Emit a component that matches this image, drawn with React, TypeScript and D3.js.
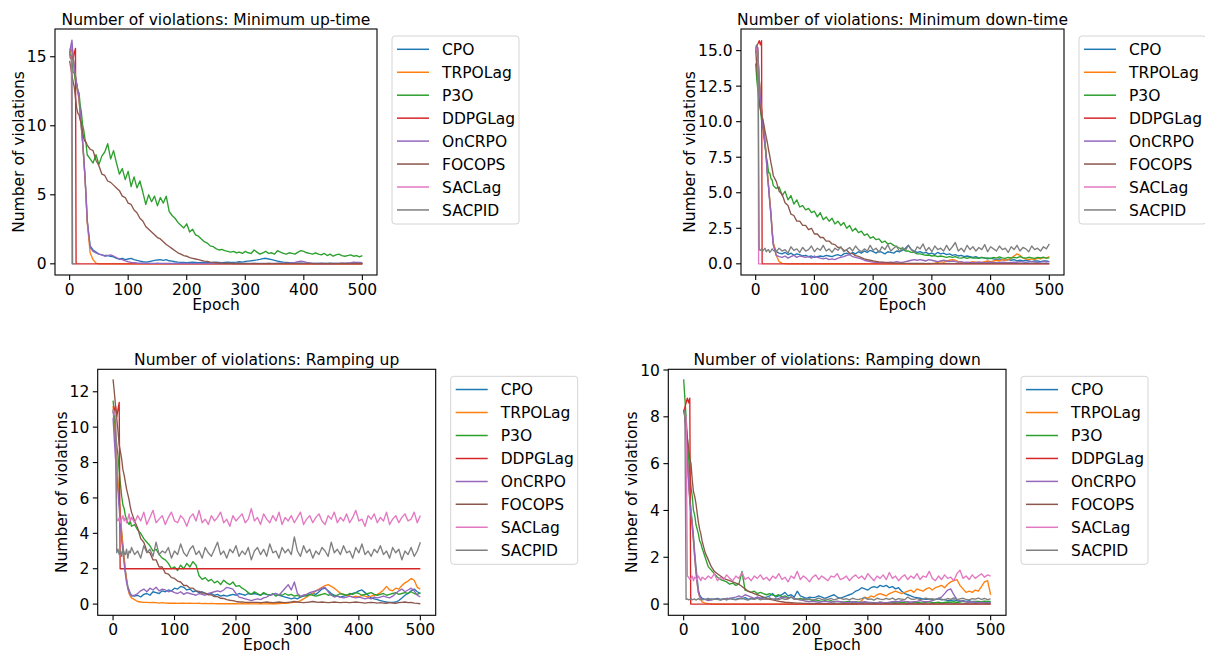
import React from 'react';
import * as d3 from 'd3';

const ALGOS = ['CPO', 'TRPOLag', 'P3O', 'DDPGLag', 'OnCRPO', 'FOCOPS', 'SACLag', 'SACPID'];
const COLORS = ['#1f77b4', '#ff7f0e', '#2ca02c', '#d62728', '#9467bd', '#8c564b', '#e377c2', '#7f7f7f'];
const X_TICKS = [0, 100, 200, 300, 400, 500];

// epochs at which the dense series are sampled
const HEAD_EPOCHS = [0, 2, 4, 6, 8, 10, 12, 14, 16, 18, 20, 22, 24, 26, 28, 30];
const TAIL_EPOCHS = d3.range(35, 501, 5);
const GRID = HEAD_EPOCHS.concat(TAIL_EPOCHS);

type Pair = [number, number];

// ---------- Minimum up-time ----------
const mutCPO = [15.5, 15.6, 15.4, 14.8, 14.2, 13.5, 12.9, 12.5, 12.0, 10.9, 9.9, 8.9, 7.7, 6.4, 4.9, 3.1,
  1.3, 1.0, 0.85, 0.7, 0.65, 0.6, 0.6, 0.55, 0.5, 0.4,
  0.35, 0.4, 0.3, 0.35, 0.4, 0.3, 0.25, 0.2, 0.15, 0.12,
  0.15, 0.2, 0.25, 0.28, 0.3, 0.25, 0.3, 0.22, 0.2, 0.15,
  0.12, 0.1, 0.1, 0.08, 0.1, 0.12, 0.1, 0.08, 0.1, 0.1,
  0.1, 0.08, 0.1, 0.12, 0.1, 0.08, 0.1, 0.12, 0.1, 0.1,
  0.12, 0.15, 0.12, 0.18, 0.2, 0.22, 0.25, 0.28, 0.32, 0.38,
  0.4, 0.35, 0.3, 0.25, 0.2, 0.15, 0.12, 0.1, 0.08, 0.06,
  0.05, 0.04, 0.04, 0.03, 0.03, 0.03, 0.02, 0.02, 0.02, 0.02,
  0.02, 0.02, 0.02, 0.02, 0.02, 0.02, 0.02, 0.02, 0.02, 0.02,
  0.02, 0.02, 0.02, 0.02];
const mutTRPOLag: Pair[] = [[0, 15.0], [2, 15.5], [4, 15.8], [6, 15.0], [8, 14.2], [10, 13.5], [12, 12.9], [14, 12.4],
  [16, 11.9], [18, 10.9], [20, 9.9], [22, 8.9], [24, 7.7], [26, 6.4], [28, 4.9], [30, 3.0], [35, 0.8], [40, 0.3],
  [45, 0.05], [50, 0], [500, 0]];
const mutP3O = [15.4, 14.9, 14.6, 13.9, 13.8, 13.2, 13.1, 12.5, 12.4, 11.5, 11.0, 10.1, 9.7, 9.1, 8.7, 7.9,
  7.6, 7.3, 7.9, 7.2, 7.8, 8.1, 8.7, 7.6, 8.2, 7.3,
  6.5, 6.9, 6.1, 6.7, 5.6, 6.3, 5.5, 6.0, 5.2, 4.3,
  5.0, 4.5, 4.9, 4.2, 4.8, 4.4, 4.9, 3.8, 3.5, 3.3,
  3.0, 2.8, 2.6, 2.9, 2.3, 2.5, 2.1, 2.0, 1.8, 1.6,
  1.5, 1.3, 1.25, 1.1, 1.0, 1.05, 0.95, 0.9, 0.85, 0.9,
  0.8, 0.85, 0.75, 0.9, 0.8, 0.75, 1.0, 0.85, 0.7, 0.8,
  0.9, 0.75, 0.8, 0.7, 0.95, 0.85, 0.75, 0.7, 0.8, 0.75,
  0.7, 0.85, 0.95, 0.9, 0.8, 0.75, 0.7, 0.8, 0.7, 0.65,
  0.75, 0.6, 0.7, 0.55, 0.65, 0.7, 0.6, 0.55, 0.6, 0.65,
  0.55, 0.6, 0.5, 0.6];
const mutDDPGLag: Pair[] = [[0, 14.9], [4, 15.0], [6, 14.8], [8, 15.3], [10, 15.6], [11, 0], [500, 0]];
const mutOnCRPO = [15.3, 15.8, 16.2, 15.0, 14.3, 13.6, 13.0, 12.6, 12.1, 11.0, 10.0, 9.0, 7.8, 6.5, 5.0, 3.2,
  1.2, 0.9, 0.8, 0.7, 0.65, 0.55, 0.6, 0.65, 0.55, 0.45,
  0.35, 0.3, 0.22, 0.15, 0.1, 0.08, 0.06, 0.05, 0.04, 0.03,
  0.03, 0.02, 0.03, 0.04, 0.03, 0.02, 0.03, 0.02, 0.02, 0.03,
  0.02, 0.02, 0.03, 0.02, 0.02, 0.01, 0.02, 0.02, 0.01, 0.02,
  0.02, 0.01, 0.02, 0.02, 0.01, 0.02, 0.01, 0.02, 0.02, 0.01,
  0.02, 0.01, 0.02, 0.03, 0.02, 0.02, 0.03, 0.02, 0.02, 0.03,
  0.02, 0.03, 0.02, 0.02, 0.03, 0.04, 0.03, 0.05, 0.06, 0.08,
  0.1, 0.15, 0.2, 0.15, 0.1, 0.06, 0.04, 0.03, 0.02, 0.03,
  0.02, 0.03, 0.02, 0.03, 0.02, 0.03, 0.04, 0.05, 0.07, 0.09,
  0.12, 0.1, 0.11, 0.08];
const mutFOCOPS = [14.7, 14.2, 13.6, 13.2, 12.8, 12.0, 11.3, 10.9, 10.8, 10.4, 10.2, 9.6, 9.1, 8.9, 8.8, 8.6,
  8.3, 8.2, 7.5, 7.1, 6.5, 6.4, 6.0, 5.9, 5.7, 5.5,
  5.3, 4.9, 4.8, 4.4, 4.3, 3.9, 3.7, 3.3, 3.1, 2.7,
  2.5, 2.3, 2.1, 1.9, 1.8, 1.6, 1.4, 1.25, 1.1, 0.95,
  0.8, 0.7, 0.6, 0.55, 0.45, 0.4, 0.35, 0.3, 0.25, 0.2,
  0.18, 0.12, 0.1, 0.08, 0.06, 0.05, 0.04, 0.03, 0.03, 0.02,
  0.02, 0.02, 0.01, 0.02, 0.01, 0.01, 0.02, 0.01, 0.01, 0.01,
  0.01, 0.02, 0.01, 0.01, 0.02, 0.01, 0.01, 0.02, 0.01, 0.01,
  0.01, 0.01, 0.02, 0.01, 0.01, 0.02, 0.01, 0.01, 0.01, 0.02,
  0.01, 0.01, 0.02, 0.01, 0.01, 0.01, 0.02, 0.01, 0.01, 0.01,
  0.01, 0.02, 0.01, 0.01];
const mutSACLag: Pair[] = [[0, 15.0], [3, 15.2], [4, 0], [10, 0]];
const mutSACPID: Pair[] = [[0, 15.2], [4, 15.0], [5, 0], [11, 0]];

// ---------- Minimum down-time ----------
const mdtCPO = [15.0, 15.2, 14.5, 13.0, 11.8, 10.8, 9.9, 9.3, 8.5, 7.5, 6.3, 5.4, 4.4, 3.5, 2.3, 1.4,
  0.85, 0.75, 0.7, 0.8, 0.65, 0.75, 0.6, 0.7, 0.65, 0.55,
  0.6, 0.5, 0.55, 0.45, 0.5, 0.55, 0.5, 0.6, 0.55, 0.5,
  0.6, 0.65, 0.55, 0.7, 0.75, 0.65, 0.8, 0.7, 0.85, 0.75,
  0.9, 0.8, 0.95, 0.85, 0.75, 0.9, 0.8, 0.7, 0.85, 0.8,
  0.75, 0.9, 0.85, 0.95, 1.1, 1.3, 1.0, 0.9, 0.8, 0.85,
  0.75, 0.8, 0.7, 0.75, 0.65, 0.8, 0.7, 0.75, 0.65, 0.7,
  0.6, 0.65, 0.55, 0.6, 0.5, 0.55, 0.5, 0.45, 0.5, 0.4,
  0.45, 0.4, 0.35, 0.4, 0.35, 0.3, 0.35, 0.3, 0.25, 0.3,
  0.25, 0.3, 0.2, 0.25, 0.2, 0.25, 0.2, 0.15, 0.2, 0.2,
  0.15, 0.2, 0.2, 0.15];
const mdtTRPOLag = [15.0, 15.3, 14.6, 13.1, 11.9, 10.9, 10.0, 9.4, 8.6, 7.6, 6.4, 5.5, 4.5, 3.6, 2.4, 1.5,
  0.6, 0.15, 0.03, 0.01, 0, 0, 0, 0, 0, 0,
  0, 0, 0, 0, 0, 0, 0, 0, 0, 0,
  0, 0, 0, 0, 0, 0, 0, 0, 0, 0,
  0, 0, 0, 0, 0, 0, 0, 0, 0, 0,
  0, 0, 0, 0, 0, 0, 0, 0, 0, 0,
  0, 0, 0, 0.02, 0.05, 0.1, 0.15, 0.1, 0.2, 0.25,
  0.3, 0.25, 0.15, 0.1, 0.05, 0.08, 0.1, 0.15, 0.1, 0.12,
  0.1, 0.15, 0.2, 0.15, 0.2, 0.25, 0.2, 0.3, 0.25, 0.3,
  0.4, 0.55, 0.7, 0.6, 0.4, 0.35, 0.3, 0.35, 0.3, 0.4,
  0.35, 0.45, 0.4, 0.5];
const mdtP3O = [14.1, 12.9, 12.1, 11.2, 10.9, 10.1, 9.8, 8.9, 8.3, 7.5, 7.1, 6.4, 6.4, 6.0, 5.9, 5.5,
  5.3, 5.4, 4.8, 5.1, 4.5, 4.8, 4.2, 4.5, 4.0, 4.1,
  3.8, 3.9, 3.6, 3.7, 3.3, 3.6, 3.1, 3.3, 3.0, 3.2,
  2.8, 3.0, 2.7, 2.9, 2.5, 2.7, 2.3, 2.5, 2.2, 2.3,
  2.0, 2.1, 1.8, 1.9, 1.7, 1.75, 1.5, 1.6, 1.4, 1.45,
  1.3, 1.2, 1.1, 1.05, 0.9, 0.9, 0.8, 0.8, 0.7, 0.7,
  0.65, 0.6, 0.62, 0.55, 0.58, 0.5, 0.55, 0.5, 0.45, 0.5,
  0.45, 0.5, 0.42, 0.4, 0.45, 0.38, 0.45, 0.4, 0.42, 0.38,
  0.45, 0.4, 0.42, 0.36, 0.45, 0.4, 0.48, 0.42, 0.38, 0.45,
  0.4, 0.45, 0.42, 0.5, 0.44, 0.4, 0.46, 0.42, 0.38, 0.45,
  0.42, 0.46, 0.4, 0.42];
const mdtDDPGLag: Pair[] = [[0, 15.2], [4, 15.5], [6, 15.7], [8, 15.4], [10, 15.7], [11, 0], [500, 0]];
const mdtOnCRPO = [15.1, 15.3, 14.4, 12.9, 11.7, 10.7, 9.8, 9.2, 8.4, 7.4, 6.2, 5.3, 4.3, 3.4, 2.2, 1.3,
  0.6, 0.5, 0.45, 0.55, 0.4, 0.5, 0.6, 0.45, 0.55, 0.5,
  0.45, 0.5, 0.4, 0.55, 0.45, 0.4, 0.35, 0.4, 0.3, 0.35,
  0.3, 0.4, 0.45, 0.5, 0.6, 0.65, 0.5, 0.45, 0.4, 0.35,
  0.25, 0.2, 0.15, 0.12, 0.1, 0.08, 0.1, 0.08, 0.1, 0.12,
  0.1, 0.15, 0.12, 0.1, 0.15, 0.2, 0.25, 0.3, 0.25, 0.3,
  0.25, 0.2, 0.3, 0.25, 0.2, 0.15, 0.2, 0.25, 0.2, 0.15,
  0.2, 0.15, 0.12, 0.15, 0.1, 0.12, 0.1, 0.08, 0.1, 0.12,
  0.1, 0.08, 0.1, 0.12, 0.1, 0.08, 0.1, 0.12, 0.1, 0.08,
  0.1, 0.12, 0.1, 0.15, 0.12, 0.1, 0.12, 0.15, 0.12, 0.1,
  0.12, 0.15, 0.12, 0.15];
const mdtFOCOPS = [15.1, 13.8, 12.5, 11.5, 10.9, 10.4, 10.2, 9.8, 9.3, 8.9, 8.5, 8.0, 7.6, 7.1, 6.7, 6.2,
  5.8, 5.1, 4.9, 4.3, 4.1, 3.5, 3.4, 3.0, 3.0, 2.7,
  2.7, 2.4, 2.5, 2.1, 2.1, 1.85, 1.85, 1.6, 1.6, 1.4,
  1.35, 1.15, 1.15, 0.95, 0.95, 0.75, 0.72, 0.58, 0.52, 0.43,
  0.35, 0.3, 0.25, 0.2, 0.17, 0.14, 0.12, 0.1, 0.08, 0.07,
  0.06, 0.05, 0.04, 0.04, 0.03, 0.03, 0.02, 0.02, 0.02, 0.02,
  0.02, 0.01, 0.02, 0.01, 0.01, 0.02, 0.01, 0.01, 0.02, 0.01,
  0.01, 0.01, 0.02, 0.01, 0.01, 0.01, 0.02, 0.01, 0.01, 0.01,
  0.02, 0.01, 0.01, 0.01, 0.02, 0.01, 0.01, 0.01, 0.01, 0.02,
  0.01, 0.01, 0.01, 0.02, 0.01, 0.01, 0.01, 0.01, 0.02, 0.01,
  0.01, 0.01, 0.01, 0.01];
const mdtSACLag: Pair[] = [[0, 15.0], [4, 15.2], [5, 0], [11, 0]];
const mdtSACPID = [15.3, 15.4, 15.0, 1.0, 0.95, 1.05, 0.9, 1.0, 1.1, 0.85, 0.95, 1.0, 0.8, 0.9, 1.05, 0.95,
  0.85, 1.1, 0.9, 1.0, 0.75, 1.2, 0.95, 1.05, 0.8, 1.15,
  0.9, 1.0, 1.25, 0.85, 1.1, 0.95, 1.3, 0.9, 1.05, 0.8,
  1.1, 0.95, 1.2, 0.85, 1.0, 1.15, 0.9, 1.25, 1.0, 0.85,
  1.05, 0.9, 1.3, 0.95, 1.1, 0.8, 1.2, 1.0, 1.35, 0.9,
  1.1, 1.25, 0.85, 1.15, 0.95, 1.3, 1.0, 0.8, 1.2, 1.05,
  1.4, 0.9, 1.15, 0.85, 1.25, 1.0, 1.1, 0.9, 1.3, 0.95,
  1.2, 1.5, 0.9, 1.1, 0.85, 1.3, 1.0, 1.2, 0.9, 1.15,
  1.0, 1.35, 0.85, 1.2, 1.05, 0.9, 1.25, 1.0, 1.1, 0.8,
  1.2, 1.0, 1.3, 0.9, 1.15, 1.05, 0.85, 1.25, 1.0, 1.1,
  0.9, 1.2, 1.05, 1.4];

// ---------- Ramping up ----------
const rupCPO = [11.0, 10.2, 9.2, 8.0, 6.8, 5.8, 4.9, 4.0, 3.3, 2.6, 1.9, 1.4, 1.0, 0.8, 0.6, 0.5,
  0.45, 0.5, 0.4, 0.55, 0.6, 0.5, 0.7, 0.65, 0.6, 0.75,
  0.7, 0.8, 0.75, 0.9, 0.85, 1.0, 0.95, 0.8, 0.85, 0.7,
  0.75, 0.65, 0.7, 0.6, 0.55, 0.6, 0.5, 0.55, 0.45, 0.5,
  0.45, 0.5, 0.55, 0.5, 0.6, 0.55, 0.5, 0.6, 0.55, 0.6,
  0.55, 0.5, 0.6, 0.55, 0.5, 0.55, 0.6, 0.5, 0.45, 0.4,
  0.35, 0.3, 0.35, 0.3, 0.4, 0.45, 0.5, 0.55, 0.6, 0.55,
  0.7, 0.85, 0.9, 0.75, 0.6, 0.5, 0.45, 0.4, 0.45, 0.5,
  0.55, 0.6, 0.65, 0.75, 0.8, 0.65, 0.5, 0.35, 0.3, 0.25,
  0.2, 0.15, 0.12, 0.1, 0.1, 0.12, 0.2, 0.35, 0.5, 0.6,
  0.75, 0.85, 0.7, 0.6];
const rupTRPOLag = [11.2, 10.4, 9.3, 8.1, 6.9, 5.9, 5.0, 4.1, 3.3, 2.6, 1.9, 1.4, 0.9, 0.6, 0.45, 0.35,
  0.25, 0.15, 0.12, 0.1, 0.1, 0.08, 0.1, 0.08, 0.06, 0.08,
  0.06, 0.05, 0.06, 0.05, 0.04, 0.05, 0.06, 0.04, 0.05, 0.04,
  0.04, 0.05, 0.03, 0.04, 0.03, 0.04, 0.03, 0.02, 0.03, 0.02,
  0.02, 0.03, 0.02, 0.02, 0.01, 0.02, 0.01, 0.02, 0.01, 0.01,
  0.01, 0.02, 0.01, 0.01, 0.02, 0.03, 0.02, 0.03, 0.05, 0.04,
  0.06, 0.08, 0.1, 0.12, 0.2, 0.3, 0.4, 0.5, 0.6, 0.75,
  0.85, 0.95, 1.05, 1.1, 1.0, 0.9, 0.75, 0.6, 0.55, 0.5,
  0.45, 0.4, 0.45, 0.4, 0.5, 0.45, 0.4, 0.45, 0.5, 0.55,
  0.65, 0.8, 1.0, 0.8, 0.75, 0.9, 0.85, 1.05, 1.2, 1.3,
  1.45, 1.35, 0.95, 0.85];
const rupP3O = [11.5, 10.8, 9.8, 9.0, 8.4, 7.5, 6.8, 6.1, 5.6, 5.4, 5.0, 4.8, 4.6, 4.5, 4.7, 4.4,
  4.5, 4.2, 4.0, 3.7, 3.5, 3.3, 3.0, 3.1, 2.8, 2.6,
  2.5, 2.3, 2.0, 2.1, 1.9, 2.2, 2.0, 2.3, 2.1, 2.4,
  2.2, 1.6, 1.4, 1.5, 1.3, 1.4, 1.2, 1.3, 1.1, 1.35,
  1.2, 1.1, 1.25, 1.0, 1.05, 0.9, 0.8, 0.65, 0.55, 0.7,
  0.6, 0.5, 0.65, 0.55, 0.5, 0.6, 0.45, 0.55, 0.5, 0.6,
  0.5, 0.55, 0.45, 0.5, 0.4, 0.5, 0.45, 0.55, 0.5, 0.45,
  0.5, 0.55, 0.6, 0.5, 0.55, 0.45, 0.5, 0.6, 0.55, 0.5,
  0.6, 0.55, 0.65, 0.6, 0.5, 0.55, 0.6, 0.65, 0.55, 0.5,
  0.55, 0.6, 0.5, 0.55, 0.6, 0.65, 0.55, 0.6, 0.65, 0.6,
  0.7, 0.6, 0.55, 0.65];
const rupDDPGLag: Pair[] = [[0, 10.8], [4, 11.2], [6, 10.6], [8, 11.0], [10, 11.4], [11.5, 2], [500, 2]];
const rupOnCRPO = [10.5, 9.3, 8.2, 7.2, 6.4, 5.4, 4.5, 3.6, 3.0, 2.3, 1.7, 1.2, 0.9, 0.7, 0.55, 0.45,
  0.5, 0.6, 0.75, 0.85, 0.7, 0.9, 0.8, 0.95, 0.75, 0.85,
  0.8, 0.7, 0.75, 0.65, 0.6, 0.7, 0.55, 0.65, 0.6, 0.55,
  0.5, 0.6, 0.55, 0.5, 0.6, 0.65, 0.7, 0.75, 0.7, 0.8,
  0.95, 0.9, 0.85, 0.6, 0.4, 0.35, 0.3, 0.25, 0.2, 0.25,
  0.3, 0.25, 0.35, 0.4, 0.5, 0.55, 0.6, 0.5, 0.7, 0.9,
  1.1, 0.8, 1.25, 0.6, 0.45, 0.5, 0.55, 0.65, 0.7, 0.75,
  0.8, 0.9, 0.95, 0.7, 0.5, 0.4, 0.45, 0.4, 0.35, 0.4,
  0.45, 0.4, 0.35, 0.4, 0.35, 0.3, 0.35, 0.3, 0.4, 0.35,
  0.4, 0.45, 0.4, 0.35, 0.45, 0.6, 0.75, 0.85, 0.7, 0.8,
  0.9, 0.75, 0.5, 0.4];
const rupFOCOPS = [12.7, 12.0, 11.2, 10.5, 9.8, 9.0, 8.6, 8.2, 7.6, 7.3, 6.9, 6.5, 6.2, 5.9, 5.5, 5.2,
  4.7, 4.3, 3.7, 3.5, 3.0, 2.9, 2.5, 2.5, 2.1, 2.1,
  1.75, 1.7, 1.5, 1.45, 1.3, 1.25, 1.05, 1.05, 0.9, 0.9,
  0.75, 0.72, 0.62, 0.62, 0.52, 0.52, 0.42, 0.42, 0.33, 0.32,
  0.25, 0.22, 0.2, 0.15, 0.12, 0.12, 0.1, 0.1, 0.1, 0.1,
  0.1, 0.08, 0.1, 0.12, 0.1, 0.08, 0.1, 0.12, 0.1, 0.08,
  0.1, 0.12, 0.15, 0.12, 0.1, 0.08, 0.1, 0.12, 0.15, 0.12,
  0.1, 0.12, 0.1, 0.08, 0.1, 0.12, 0.1, 0.08, 0.1, 0.1,
  0.08, 0.1, 0.12, 0.1, 0.08, 0.06, 0.08, 0.1, 0.08, 0.06,
  0.08, 0.06, 0.05, 0.08, 0.06, 0.05, 0.08, 0.1, 0.12, 0.08,
  0.1, 0.06, 0.04, 0.02];
const rupSACLag = [11.0, 10.8, 10.6, 4.8, 4.7, 4.9, 4.6, 4.8, 5.0, 4.7, 4.9, 4.6, 4.8, 5.1, 4.7, 4.9,
  4.6, 5.0, 4.7, 5.2, 4.5, 4.9, 5.3, 4.6, 4.8, 5.0,
  4.5, 4.9, 5.2, 4.7, 4.6, 5.0, 4.8, 4.4, 4.9, 5.1,
  4.7, 5.3, 4.6, 4.8, 4.5, 5.0, 4.7, 4.9, 5.2, 4.6,
  4.8, 4.4, 5.0, 4.7, 4.9, 5.1, 4.6, 4.8, 5.4, 4.7,
  4.9, 4.5, 5.1, 4.8, 4.6, 5.0, 4.7, 5.2, 4.5, 4.9,
  4.7, 5.0, 4.6, 4.9, 5.2, 4.5, 4.8, 5.0, 4.6, 4.9,
  5.1, 4.7, 4.5, 5.0, 4.8, 5.2, 4.6, 4.9, 4.7, 5.1,
  4.6, 4.9, 5.3, 4.7, 4.8, 4.4, 5.0, 4.8, 5.1, 4.6,
  4.9, 4.7, 5.2, 4.5, 4.8, 5.0, 4.6, 4.9, 5.1, 4.7,
  4.8, 5.2, 4.6, 5.0];
const rupSACPID = [10.6, 10.5, 10.4, 2.9, 3.1, 2.8, 3.0, 2.7, 3.2, 2.9, 2.8, 3.1, 2.6, 3.0, 2.9, 3.2,
  2.8, 3.0, 2.6, 3.3, 2.9, 3.1, 2.7, 3.5, 2.8, 3.0,
  2.9, 3.2, 2.6, 3.0, 2.8, 3.4, 2.9, 2.7, 3.1, 3.3,
  2.8, 3.0, 2.6, 3.2, 2.9, 2.7, 3.1, 3.5, 2.8, 3.0,
  2.6, 3.1, 2.9, 3.3, 2.7, 3.0, 2.8, 3.2, 2.5, 3.0,
  3.2, 2.8, 3.1, 2.7, 3.4, 2.9, 3.0, 2.6, 3.2, 2.9,
  3.1, 2.8, 3.8, 3.0, 2.7, 3.3, 2.9, 3.1, 2.6, 3.0,
  2.8, 3.2, 3.0, 2.7, 3.5, 2.9, 3.1, 2.8, 3.3, 2.9,
  3.0, 2.6, 3.2, 2.9, 3.4, 2.8, 3.0, 2.7, 3.1, 2.9,
  3.3, 2.8, 3.0, 2.6, 3.2, 2.9, 3.1, 2.5, 3.0, 2.8,
  3.2, 2.7, 3.0, 3.5];

// ---------- Ramping down ----------
const rdnCPO = [8.3, 8.1, 7.4, 6.4, 5.4, 4.6, 4.0, 3.5, 2.9, 2.2, 1.6, 1.1, 0.6, 0.4, 0.3, 0.25,
  0.2, 0.18, 0.22, 0.2, 0.25, 0.2, 0.22, 0.18, 0.25, 0.22,
  0.2, 0.25, 0.22, 0.28, 0.2, 0.25, 0.22, 0.3, 0.25, 0.28,
  0.3, 0.35, 0.45, 0.3, 0.35, 0.4, 0.5, 0.35, 0.4, 0.3,
  0.55, 0.35, 0.3, 0.25, 0.3, 0.28, 0.3, 0.35, 0.3, 0.25,
  0.3, 0.35, 0.4, 0.3, 0.25, 0.3, 0.35, 0.4, 0.45, 0.55,
  0.6, 0.7, 0.65, 0.6, 0.7, 0.75, 0.7, 0.8, 0.75, 0.8,
  0.7, 0.75, 0.65, 0.7, 0.55, 0.45, 0.4, 0.35, 0.3, 0.28,
  0.25, 0.22, 0.2, 0.22, 0.18, 0.2, 0.22, 0.18, 0.2, 0.15,
  0.15, 0.18, 0.15, 0.12, 0.15, 0.12, 0.15, 0.1, 0.12, 0.1,
  0.1, 0.08, 0.1, 0.07];
const rdnTRPOLag = [8.3, 8.1, 7.3, 6.3, 5.3, 4.5, 3.9, 3.3, 2.7, 2.0, 1.4, 0.9, 0.5, 0.3, 0.18, 0.1,
  0.04, 0.02, 0.01, 0, 0, 0, 0, 0, 0, 0,
  0, 0, 0, 0, 0, 0, 0, 0, 0, 0,
  0, 0, 0, 0, 0, 0, 0, 0, 0, 0,
  0, 0, 0, 0, 0, 0, 0, 0, 0, 0,
  0, 0, 0, 0, 0, 0, 0, 0, 0, 0,
  0.05, 0.15, 0.3, 0.25, 0.35, 0.3, 0.4, 0.45, 0.4, 0.35,
  0.45, 0.5, 0.55, 0.5, 0.45, 0.5, 0.55, 0.6, 0.5, 0.65,
  0.6, 0.55, 0.65, 0.7, 0.6, 0.7, 0.75, 0.8, 0.7, 0.85,
  0.95, 1.0, 1.05, 0.8, 0.65, 0.5, 0.55, 0.5, 0.6, 0.55,
  0.75, 0.95, 1.0, 0.4];
const rdnP3O = [9.6, 8.8, 8.0, 7.1, 6.3, 5.6, 5.0, 4.6, 4.0, 3.8, 3.4, 3.2, 3.0, 2.7, 2.6, 2.4,
  2.0, 1.6, 1.45, 1.3, 1.15, 1.05, 1.0, 0.95, 0.85, 0.9,
  0.8, 0.85, 1.4, 0.6, 0.55, 0.5, 0.55, 0.45, 0.5, 0.45,
  0.4, 0.45, 0.38, 0.35, 0.4, 0.3, 0.35, 0.28, 0.3, 0.25,
  0.2, 0.25, 0.2, 0.18, 0.2, 0.15, 0.18, 0.15, 0.12, 0.15,
  0.12, 0.15, 0.1, 0.12, 0.1, 0.08, 0.1, 0.12, 0.08, 0.1,
  0.08, 0.06, 0.08, 0.05, 0.07, 0.06, 0.05, 0.08, 0.06, 0.05,
  0.05, 0.07, 0.06, 0.05, 0.08, 0.06, 0.05, 0.07, 0.06, 0.08,
  0.06, 0.05, 0.08, 0.1, 0.07, 0.06, 0.08, 0.05, 0.07, 0.09,
  0.08, 0.1, 0.07, 0.09, 0.12, 0.1, 0.08, 0.11, 0.1, 0.12,
  0.1, 0.13, 0.11, 0.12];
const rdnDDPGLag: Pair[] = [[0, 8.2], [4, 8.6], [6, 8.8], [8, 8.6], [10, 8.8], [11.5, 0], [500, 0]];
const rdnOnCRPO = [8.3, 8.0, 7.2, 6.2, 5.2, 4.4, 3.8, 3.3, 2.7, 2.0, 1.4, 0.9, 0.5, 0.35, 0.25, 0.2,
  0.2, 0.15, 0.18, 0.2, 0.22, 0.18, 0.2, 0.25, 0.22, 0.28,
  0.3, 0.35, 0.3, 0.4, 0.35, 0.3, 0.25, 0.3, 0.25, 0.22,
  0.2, 0.25, 0.22, 0.2, 0.25, 0.3, 0.28, 0.25, 0.3, 0.25,
  0.2, 0.18, 0.15, 0.12, 0.1, 0.12, 0.1, 0.08, 0.1, 0.12,
  0.1, 0.08, 0.1, 0.12, 0.1, 0.08, 0.06, 0.08, 0.1, 0.08,
  0.06, 0.08, 0.1, 0.08, 0.06, 0.05, 0.06, 0.08, 0.06, 0.05,
  0.08, 0.1, 0.12, 0.1, 0.15, 0.12, 0.1, 0.08, 0.1, 0.12,
  0.15, 0.12, 0.1, 0.12, 0.15, 0.2, 0.25, 0.3, 0.45, 0.6,
  0.65, 0.4, 0.2, 0.15, 0.12, 0.1, 0.08, 0.1, 0.08, 0.06,
  0.08, 0.06, 0.05, 0.06];
const rdnFOCOPS = [8.3, 8.0, 7.6, 7.1, 6.7, 6.2, 6.0, 5.3, 4.8, 4.6, 4.3, 3.9, 3.5, 3.2, 3.0, 2.7,
  2.2, 1.9, 1.6, 1.4, 1.3, 1.2, 1.1, 1.05, 1.0, 0.95,
  0.9, 0.85, 0.75, 0.65, 0.55, 0.5, 0.45, 0.4, 0.35, 0.3,
  0.25, 0.2, 0.18, 0.15, 0.12, 0.1, 0.08, 0.07, 0.06, 0.05,
  0.04, 0.04, 0.03, 0.03, 0.02, 0.02, 0.02, 0.02, 0.02, 0.02,
  0.02, 0.01, 0.02, 0.01, 0.01, 0.02, 0.01, 0.01, 0.02, 0.01,
  0.01, 0.02, 0.01, 0.01, 0.01, 0.02, 0.01, 0.01, 0.01, 0.02,
  0.01, 0.01, 0.02, 0.01, 0.01, 0.01, 0.02, 0.01, 0.01, 0.01,
  0.02, 0.01, 0.01, 0.01, 0.02, 0.01, 0.01, 0.02, 0.01, 0.01,
  0.01, 0.02, 0.01, 0.01, 0.01, 0.02, 0.01, 0.01, 0.02, 0.01,
  0.01, 0.01, 0.02, 0.01];
const rdnSACLag = [8.2, 8.1, 8.0, 1.2, 1.15, 1.05, 1.1, 1.2, 1.0, 1.15, 1.1, 1.05, 1.2, 1.1, 1.0, 1.15,
  1.05, 1.2, 1.1, 1.3, 1.0, 1.15, 1.05, 1.25, 1.1, 1.0,
  1.2, 1.1, 1.35, 1.05, 1.15, 1.0, 1.2, 1.1, 1.25, 1.05,
  1.15, 1.0, 1.2, 1.1, 1.3, 1.05, 1.15, 0.95, 1.2, 1.1,
  1.4, 1.05, 1.2, 1.1, 0.95, 1.15, 1.25, 1.05, 1.2, 1.1,
  1.0, 1.2, 1.15, 1.3, 1.05, 1.1, 1.2, 1.0, 1.15, 1.25,
  1.1, 1.2, 1.05, 1.3, 1.15, 1.0, 1.2, 1.1, 1.25, 1.05,
  1.35, 1.1, 1.2, 1.0, 1.15, 1.25, 1.05, 1.2, 1.1, 1.3,
  1.05, 1.2, 1.15, 1.4, 1.1, 1.0, 1.2, 1.05, 1.25, 1.1,
  1.15, 1.0, 1.3, 1.45, 1.1, 1.2, 1.05, 1.25, 1.1, 1.2,
  1.3, 1.15, 1.25, 1.2];
const rdnSACPID = [8.3, 8.2, 0.2, 0.22, 0.18, 0.2, 0.25, 0.18, 0.2, 0.22, 0.17, 0.2, 0.24, 0.19, 0.21, 0.18,
  0.2, 0.25, 0.18, 0.22, 0.2, 0.17, 0.23, 0.19, 0.25, 0.2,
  0.18, 0.22, 0.26, 0.2, 0.17, 0.23, 0.2, 0.25, 0.18, 0.22,
  0.2, 0.27, 0.19, 0.23, 0.18, 0.25, 0.2, 0.22, 0.3, 0.2,
  0.22, 0.18, 0.25, 0.2, 0.23, 0.17, 0.21, 0.26, 0.19, 0.22,
  0.2, 0.24, 0.18, 0.22, 0.27, 0.2, 0.23, 0.18, 0.25, 0.21,
  0.19, 0.23, 0.28, 0.2, 0.22, 0.17, 0.25, 0.21, 0.19, 0.24,
  0.2, 0.26, 0.18, 0.23, 0.21, 0.19, 0.3, 0.22, 0.2, 0.25,
  0.18, 0.22, 0.26, 0.2, 0.23, 0.19, 0.25, 0.21, 0.18, 0.24,
  0.2, 0.27, 0.19, 0.22, 0.25, 0.2, 0.18, 0.23, 0.21, 0.26,
  0.2, 0.24, 0.19, 0.22];

type SeriesData = number[] | Pair[];

function toPoints(s: SeriesData): Pair[] {
  if (s.length && Array.isArray(s[0])) return s as Pair[];
  return (s as number[]).map((v, i) => [GRID[i], v] as Pair);
}

const FONT = '"DejaVu Sans", sans-serif';
const FS = 15.5;

interface PanelCfg {
  title: string;
  series: SeriesData[];
  yDomain: [number, number];
  yTicks: number[];
  yFmt: (n: number) => string;
  box: { x: number; y: number; w: number; h: number };
  ylabelX: number;
}

const PANELS: PanelCfg[] = [
  {
    title: 'Number of violations: Minimum up-time',
    series: [mutCPO, mutTRPOLag, mutP3O, mutDDPGLag, mutOnCRPO, mutFOCOPS, mutSACLag, mutSACPID],
    yDomain: [-0.81, 17.01], yTicks: [0, 5, 10, 15], yFmt: d3.format('d'),
    box: { x: 55, y: 29, w: 322, h: 246 }, ylabelX: 24,
  },
  {
    title: 'Number of violations: Minimum down-time',
    series: [mdtCPO, mdtTRPOLag, mdtP3O, mdtDDPGLag, mdtOnCRPO, mdtFOCOPS, mdtSACLag, mdtSACPID],
    yDomain: [-0.787, 16.52], yTicks: [0, 2.5, 5, 7.5, 10, 12.5, 15], yFmt: d3.format('.1f'),
    box: { x: 741, y: 29, w: 323, h: 246 }, ylabelX: 694.5,
  },
  {
    title: 'Number of violations: Ramping up',
    series: [rupCPO, rupTRPOLag, rupP3O, rupDDPGLag, rupOnCRPO, rupFOCOPS, rupSACLag, rupSACPID],
    yDomain: [-0.632, 13.27], yTicks: [0, 2, 4, 6, 8, 10, 12], yFmt: d3.format('d'),
    box: { x: 97.7, y: 369.3, w: 338, h: 246 }, ylabelX: 66.5,
  },
  {
    title: 'Number of violations: Ramping down',
    series: [rdnCPO, rdnTRPOLag, rdnP3O, rdnDDPGLag, rdnOnCRPO, rdnFOCOPS, rdnSACLag, rdnSACPID],
    yDomain: [-0.478, 10.03], yTicks: [0, 2, 4, 6, 8, 10], yFmt: d3.format('d'),
    box: { x: 668.3, y: 369.3, w: 337.7, h: 246 }, ylabelX: 636.5,
  },
];

function Panel({ p, idx }: { p: PanelCfg; idx: number }) {
  const { box } = p;
  const x = d3.scaleLinear().domain([-25, 525]).range([box.x, box.x + box.w]);
  const y = d3.scaleLinear().domain(p.yDomain).range([box.y + box.h, box.y]);
  const line = d3.line<Pair>().x(d => x(d[0])).y(d => y(d[1]));
  const bottom = box.y + box.h;
  const clipId = `clip-${idx}`;
  const lx = box.x + box.w + 15;
  const ly = box.y + 7;
  return (
    <g>
      <defs>
        <clipPath id={clipId}>
          <rect x={box.x} y={box.y} width={box.w} height={box.h} />
        </clipPath>
      </defs>
      <rect x={box.x} y={box.y} width={box.w} height={box.h} fill="#fff" />
      <g clipPath={`url(#${clipId})`}>
        {p.series.map((s, i) => (
          <path key={i} d={line(toPoints(s)) || ''} fill="none" stroke={COLORS[i]} strokeWidth={1.35}
            strokeLinejoin="round" />
        ))}
      </g>
      <rect x={box.x} y={box.y} width={box.w} height={box.h} fill="none" stroke="#000" strokeWidth={1.1} />
      {X_TICKS.map(t => (
        <g key={'x' + t}>
          <line x1={x(t)} x2={x(t)} y1={bottom} y2={bottom + 4.9} stroke="#000" strokeWidth={1.1} />
          <text x={x(t)} y={bottom + 19.8} textAnchor="middle" fontFamily={FONT} fontSize={FS} fill="#000">{t}</text>
        </g>
      ))}
      {p.yTicks.map(t => (
        <g key={'y' + t}>
          <line x1={box.x - 4.9} x2={box.x} y1={y(t)} y2={y(t)} stroke="#000" strokeWidth={1.1} />
          <text x={box.x - 8.4} y={y(t)} dy="0.36em" textAnchor="end" fontFamily={FONT} fontSize={FS} fill="#000">{p.yFmt(t)}</text>
        </g>
      ))}
      <text x={box.x + box.w / 2} y={box.y - 4.3} textAnchor="middle" fontFamily={FONT} fontSize={FS} fill="#000">{p.title}</text>
      <text x={box.x + box.w / 2} y={bottom + 35} textAnchor="middle" fontFamily={FONT} fontSize={FS} fill="#000">Epoch</text>
      <text transform={`translate(${p.ylabelX},${box.y + box.h / 2}) rotate(-90)`} textAnchor="middle" fontFamily={FONT}
        fontSize={FS} fill="#000">Number of violations</text>
      <g>
        <rect x={lx} y={ly} width={127} height={188} rx={3} ry={3} fill="#fff" fillOpacity={0.8} stroke="#d4d4d4" strokeWidth={1} />
        {ALGOS.map((a, i) => {
          const yy = ly + 13.3 + i * 22.95;
          return (
            <g key={a}>
              <line x1={lx + 5} x2={lx + 37} y1={yy} y2={yy} stroke={COLORS[i]} strokeWidth={1.5} />
              <text x={lx + 50} y={yy} dy="0.36em" fontFamily={FONT} fontSize={FS} fill="#000">{a}</text>
            </g>
          );
        })}
      </g>
    </g>
  );
}

export default function App() {
  return (
    <svg width={1205} height={651} style={{ position: 'absolute', left: 0, top: 0, background: '#fff' }}
      xmlns="http://www.w3.org/2000/svg">
      <rect x={0} y={0} width={1205} height={651} fill="#fff" />
      {PANELS.map((p, i) => <Panel key={i} p={p} idx={i} />)}
    </svg>
  );
}
